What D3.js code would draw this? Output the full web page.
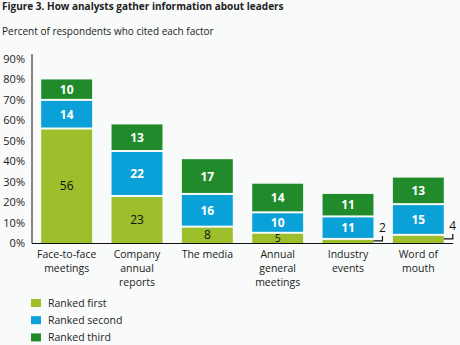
<!DOCTYPE html>
<html><head><meta charset="utf-8">
<script src="https://cdn.jsdelivr.net/npm/d3@7"></script>
<style>
html,body{margin:0;padding:0;background:#f8fbf9;}
svg{display:block;font-family:"Open Sans",sans-serif;}
</style></head>
<body>
<svg id="c" width="460" height="345"></svg>
<script>
const categories = ["Face-to-face\nmeetings","Company\nannual\nreports","The media","Annual\ngeneral\nmeetings","Industry\nevents","Word of\nmouth"];
const rankedFirst = [56,23,8,5,2,4];
const rankedSecond = [14,22,16,10,11,15];
const rankedThird = [10,13,17,14,11,13];
const seriesNames = ["Ranked first","Ranked second","Ranked third"];
const yTicks = [0,10,20,30,40,50,60,70,80,90];
const colors = ["#9dbf2b","#0aa0d8","#218b2b"];

const svg = d3.select("#c");
svg.append("rect").attr("width",460).attr("height",345).attr("fill","#f8fbf9");

svg.append("text").attr("x",2).attr("y",10).attr("font-size",10).attr("font-weight","bold").attr("fill","#222")
  .text("Figure 3. How analysts gather information about leaders");
svg.append("text").attr("x",2).attr("y",35).attr("font-size",10).attr("fill","#222")
  .text("Percent of respondents who cited each factor");

const y = d3.scaleLinear().domain([0,90]).range([243,59]);
const x = d3.scaleBand().domain(categories).range([31.5,453.5]).paddingInner(0.276).paddingOuter(0.138);

const yAxis = d3.axisLeft(y).tickValues(yTicks).tickFormat(d=>d+"%").tickSize(0).tickPadding(7);
const ga = svg.append("g").attr("transform","translate(32,0)").call(yAxis);
ga.select(".domain").remove();
ga.selectAll("text").attr("font-size",11).attr("fill","#222").attr("font-family","'Open Sans',sans-serif");
svg.append("line").attr("x1",32).attr("x2",32).attr("y1",54).attr("y2",243.5).attr("stroke","#111").attr("stroke-width",1);

const series = [rankedFirst, rankedSecond, rankedThird];
categories.forEach((c,i)=>{
  let cum = 0;
  series.forEach((s,k)=>{
    const v = s[i];
    const y0 = y(cum), y1 = y(cum+v);
    const top = y1 + (k===2?0:1);
    const bot = y0 - (k===0?0:1);
    svg.append("rect").attr("x",x(c)).attr("width",x.bandwidth())
      .attr("y",top).attr("height",Math.max(0,bot-top)).attr("fill",colors[k]);
    const cx = x(c)+x.bandwidth()/2;
    if (v>=5){
      const small = (y0-y1) < 14;
      svg.append("text").attr("x",cx).attr("y",small ? y0-1 : (y0+y1)/2).attr("dy", small?"0":"0.36em")
        .attr("text-anchor","middle").attr("font-size",small?10.5:12)
        .attr("font-weight",k===0?"normal":"bold")
        .attr("fill",k===0?"#111":"#fff").text(v);
    } else {
      const ym = (y0+y1)/2;
      const xr = x(c)+x.bandwidth();
      svg.append("path").attr("d",`M${xr},${ym}H${xr+9}V${ym-5}`).attr("fill","none").attr("stroke","#111").attr("stroke-width",1.2);
      svg.append("text").attr("x",xr+9).attr("y",ym-9).attr("text-anchor","middle").attr("font-size",12).attr("fill","#111").text(v);
    }
    cum += v;
  });
  const lines = c.split("\n");
  const t = svg.append("text").attr("text-anchor","middle").attr("font-size",10.5).attr("fill","#222");
  lines.forEach((l,j)=>{
    t.append("tspan").attr("x",x(c)+x.bandwidth()/2).attr("y",258+j*14).text(l);
  });
});

svg.append("line").attr("x1",32).attr("x2",453).attr("y1",243.5).attr("y2",243.5).attr("stroke","#111").attr("stroke-width",1);

seriesNames.forEach((n,k)=>{
  const yy = 303 + k*17.2;
  svg.append("rect").attr("x",31).attr("y",yy-4).attr("width",10).attr("height",8).attr("fill",colors[k]);
  svg.append("text").attr("x",48).attr("y",yy).attr("dy","0.36em").attr("font-size",10.5).attr("fill","#222").text(n);
});
</script>
</body></html>
